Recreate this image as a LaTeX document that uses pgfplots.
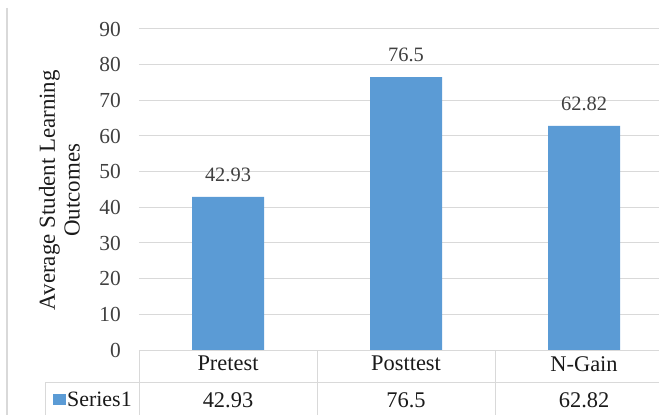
\documentclass[border=0pt]{standalone}
\usepackage{fontspec}
\setmainfont{Liberation Serif}
\usepackage{pgfplots}
\pgfplotsset{compat=1.18}
\definecolor{barblue}{HTML}{5B9BD5}
\definecolor{gridgray}{HTML}{D9D9D9}
\definecolor{txtgray}{HTML}{404040}
\definecolor{tabtxt}{HTML}{1A1A1A}
\begin{document}
\begin{tikzpicture}
\useasboundingbox (-139bp,-65bp) rectangle (520bp,350bp);
\begin{axis}[
  at={(0,0)}, anchor=south west,
  scale only axis, width=520bp, height=321bp,
  xmin=-0.5, xmax=2.421, ymin=0, ymax=90,
  ybar, bar width=72bp,
  ytick={0,10,...,90},
  xtick={0,1,2},
  xticklabels={{Pretest\\42.93},{Posttest\\76.5},{N-Gain\\62.82}},
  major tick length=0pt,
  axis line style={draw=none},
  ymajorgrids, grid style={gridgray, line width=1bp},
  /pgf/number format/assume math mode=true,
  yticklabel style={anchor=east, inner sep=0pt, xshift=-18bp, text=txtgray, font=\fontsize{21.5}{24}\selectfont},
  xticklabel style={anchor=north, inner sep=0pt, yshift=-6bp, align=center, text=tabtxt, font=\fontsize{22.5}{37}\selectfont},
  ylabel={Average Student Learning\\Outcomes},
  ylabel style={at={(axis description cs:-0.153,0.498)}, anchor=center, align=center, text=tabtxt, font=\fontsize{23}{25}\selectfont},
  nodes near coords,
  every node near coord/.append style={anchor=south, inner sep=0pt, yshift=15bp, text=txtgray, font=\fontsize{20.5}{24}\selectfont},
  legend style={at={(axis description cs:-0.1654,-0.1542)}, anchor=west, draw=none, fill=none, inner sep=0pt, font=\fontsize{22}{24}\selectfont, text=tabtxt, nodes={inner sep=1bp}},
  legend image code/.code={\fill[barblue] (0bp,-5.5bp) rectangle (13bp,5.5bp);},
  clip=false,
]
\addplot[fill=barblue, draw=none] coordinates {(0,42.93) (1,76.5) (2,62.82)};
\addlegendentry{Series1}
\end{axis}
\begin{scope}[gridgray, line width=1bp]
\draw (0bp,0bp) -- (520bp,0bp);
\draw (-93bp,-32bp) -- (520bp,-32bp);
\draw (0bp,0bp) -- (0bp,-65bp);
\draw (178bp,0bp) -- (178bp,-65bp);
\draw (356bp,0bp) -- (356bp,-65bp);
\draw (-93bp,-32bp) -- (-93bp,-65bp);
\draw[line width=1.5bp] (-132bp,342bp) -- (-132bp,-65bp);
\end{scope}
\end{tikzpicture}
\end{document}
